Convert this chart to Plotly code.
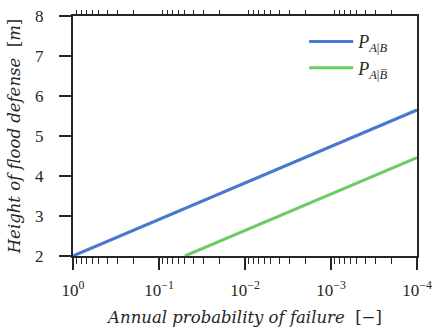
import plotly.graph_objects as go

# Data
prob_blue = [1.0, 1e-4]
height_blue = [2.0, 5.65]
prob_green = [0.05, 1e-4]
height_green = [2.0, 4.46]

x_major = [1, 1e-1, 1e-2, 1e-3, 1e-4]
x_major_text = ["10<sup>0</sup>", "10<sup>−1</sup>", "10<sup>−2</sup>", "10<sup>−3</sup>", "10<sup>−4</sup>"]
x_minor = [m * 10.0 ** (-k) for k in range(1, 5) for m in range(2, 10)]
y_ticks = [2, 3, 4, 5, 6, 7, 8]

name_blue = "<i>P</i><sub><i>A</i>|<i>B</i></sub>"
name_green = "<i>P</i><sub><i>A</i>|<i>B\u0305</i></sub>"

INK = "#262626"
FONT = "Liberation Serif"
TFONT = "DejaVu Serif"

fig = go.Figure()
fig.add_trace(go.Scatter(x=prob_blue, y=height_blue, mode="lines", name=name_blue,
                         line=dict(color="#4878CF", width=3)))
fig.add_trace(go.Scatter(x=prob_green, y=height_green, mode="lines", name=name_green,
                         line=dict(color="#6ACC65", width=3)))

fig.update_layout(
    width=434, height=330,
    margin=dict(l=73, r=17, t=16, b=74, autoexpand=False),
    paper_bgcolor="white", plot_bgcolor="white",
    font=dict(family=FONT, color=INK, size=17),
    showlegend=True,
    legend=dict(x=0.672, y=0.97, xanchor="left", yanchor="top",
                bgcolor="rgba(0,0,0,0)", font=dict(size=18, family=FONT),
                tracegroupgap=4, itemwidth=44),
    xaxis=dict(
        type="log", range=[0, -4], automargin=False,
        tickvals=x_major, ticktext=x_major_text,
        ticks="outside", ticklen=12, tickwidth=1.5, tickcolor=INK,
        ticklabelstandoff=6,
        minor=dict(tickvals=x_minor, ticks="outside", ticklen=6, tickwidth=1, tickcolor=INK, showgrid=False),
        showline=True, linecolor=INK, linewidth=2, mirror=True,
        showgrid=False, zeroline=False,
        tickfont=dict(size=17, family=FONT),
        title=dict(text="<i>Annual probability of failure</i>  [−]",
                   font=dict(size=16.5, family=TFONT), standoff=12),
    ),
    xaxis2=dict(
        type="log", range=[0, -4], overlaying="x", side="top", automargin=False,
        tickvals=x_minor, ticks="outside", ticklen=5, tickwidth=1, tickcolor=INK,
        showticklabels=False, showline=False, showgrid=False, zeroline=False,
    ),
    yaxis=dict(
        range=[2, 8], tickvals=y_ticks, automargin=False,
        ticks="outside", ticklen=12, tickwidth=1.5, tickcolor=INK,
        ticklabelstandoff=12,
        showline=True, linecolor=INK, linewidth=2, mirror=True,
        showgrid=False, zeroline=False,
        tickfont=dict(size=17, family=FONT),
        title=dict(text="<i>Height of flood defense</i>  [<i>m</i>]",
                   font=dict(size=16.5, family=TFONT), standoff=10),
    ),
)
# invisible trace to anchor the top axis
fig.add_trace(go.Scatter(x=[1], y=[2], xaxis="x2", yaxis="y", mode="markers",
                         marker=dict(opacity=0), showlegend=False, hoverinfo="skip"))

fig.write_html("out.html", config={"displayModeBar": False},
               post_script="document.body.style.margin='0';document.body.style.padding='0';"
                           "document.body.style.overflow='hidden';")
